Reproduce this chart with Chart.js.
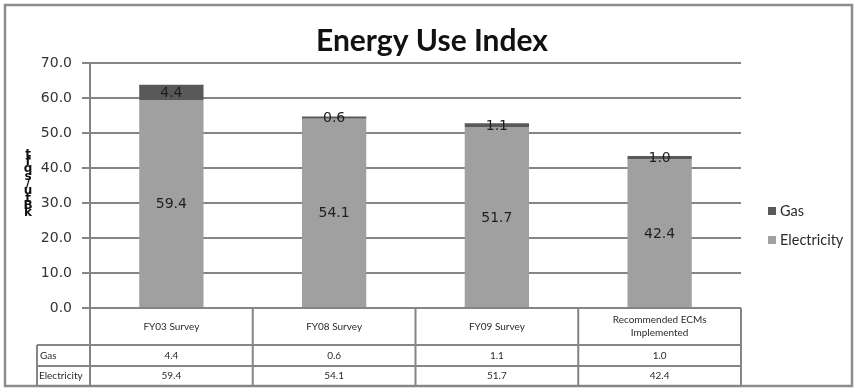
<!DOCTYPE html>
<html>
<head>
<meta charset="utf-8">
<script src="https://cdn.jsdelivr.net/npm/chart.js@4.4.1/dist/chart.umd.min.js"></script>
<style>
  html, body { margin: 0; padding: 0; background: #ffffff; }
  #wrap { width: 858px; height: 389px; position: relative; }
</style>
</head>
<body>
<div id="wrap"><canvas id="chart" width="858" height="389"></canvas></div>
<script>
// Energy Use Index: electricity and gas, stacked per survey
const categories = ['FY03 Survey', 'FY08 Survey', 'FY09 Survey', ['Recommended ECMs', 'Implemented']];
const gasValues = [4.4, 0.6, 1.1, 1.0];
const electricityValues = [59.4, 54.1, 51.7, 42.4];
const yMin = 0;
const yMax = 70;
const yStep = 10;
const chartTitle = 'Energy Use Index';
const unitLabel = 'kBtu/sqft';

const GAS_COLOR = '#595959';
const ELEC_COLOR = '#a0a0a0';
const LINE_COLOR = '#858585';
const TEXT_COLOR = '#2b2b2b';

// Frame, title, stacked unit label and right-hand legend
const decorations = {
  id: 'decorations',
  beforeDraw(chart) {
    const ctx = chart.ctx;
    ctx.save();
    ctx.fillStyle = '#ffffff';
    ctx.fillRect(0, 0, chart.width, chart.height);
    ctx.restore();
  },
  afterDraw(chart) {
    const ctx = chart.ctx;
    ctx.save();
    // outer frame
    ctx.strokeStyle = '#8c8c8c';
    ctx.lineWidth = 2.5;
    ctx.strokeRect(5, 5, 847, 381);

    // title
    ctx.fillStyle = '#111111';
    ctx.font = 'bold 30px Lato';
    ctx.textAlign = 'center';
    ctx.textBaseline = 'alphabetic';
    ctx.fillText(chartTitle, 432, 51);

    // unit label, glyphs stacked upright from bottom to top
    ctx.font = 'bold 12px "DejaVu Sans"';
    ctx.fillStyle = '#111111';
    ctx.textBaseline = 'middle';
    const chars = unitLabel.split('');
    const step = 7.3;
    const bottomY = 213;
    chars.forEach((c, i) => {
      ctx.fillText(c, 28, bottomY - i * step);
    });

    // legend, drawn in reverse dataset order
    const items = chart.data.datasets.slice().reverse();
    ctx.font = '14.5px Lato';
    ctx.textAlign = 'left';
    items.forEach((ds, i) => {
      const y = 211 + i * 29;
      ctx.fillStyle = ds.backgroundColor;
      ctx.fillRect(768, y - 4, 8, 8);
      ctx.fillStyle = TEXT_COLOR;
      ctx.fillText(ds.label, 780, y + 0.5);
    });
    ctx.restore();
  }
};

// Segment values written in the middle of each stacked piece
const segmentLabels = {
  id: 'segmentLabels',
  afterDatasetsDraw(chart) {
    const ctx = chart.ctx;
    ctx.save();
    ctx.font = '14px "DejaVu Sans"';
    ctx.fillStyle = '#1e1e1e';
    ctx.textAlign = 'center';
    ctx.textBaseline = 'middle';
    chart.data.datasets.forEach((ds, di) => {
      const meta = chart.getDatasetMeta(di);
      meta.data.forEach((bar, i) => {
        const yMid = (bar.y + bar.base) / 2;
        ctx.fillText(ds.data[i].toFixed(1), bar.x, yMid + 1);
      });
    });
    ctx.restore();
  }
};

// Data table under the plot, columns taken from the category scale
const dataTable = {
  id: 'dataTable',
  afterDraw(chart) {
    const ctx = chart.ctx;
    const area = chart.chartArea;
    const xScale = chart.scales.x;
    const n = categories.length;
    const half = (area.right - area.left) / (2 * n);
    const headTop = area.bottom;
    const headBottom = headTop + 37;
    const gasBottom = headBottom + 21;
    const elecBottom = gasBottom + 20;
    const labelLeft = 37;

    ctx.save();
    ctx.strokeStyle = LINE_COLOR;
    ctx.lineWidth = 2;
    ctx.beginPath();
    // axis line continues through the table
    ctx.moveTo(area.left, headTop);
    ctx.lineTo(area.left, elecBottom);
    // row lines
    [headBottom, gasBottom, elecBottom].forEach(y => {
      ctx.moveTo(labelLeft, y);
      ctx.lineTo(area.right, y);
    });
    ctx.moveTo(labelLeft, headBottom);
    ctx.lineTo(labelLeft, elecBottom);
    // column separators
    for (let i = 0; i < n; i++) {
      const right = xScale.getPixelForValue(i) + half;
      ctx.moveTo(right, headTop);
      ctx.lineTo(right, elecBottom);
    }
    ctx.stroke();

    ctx.fillStyle = TEXT_COLOR;
    ctx.font = '10px Lato';
    ctx.textBaseline = 'middle';
    ctx.textAlign = 'center';
    categories.forEach((cat, i) => {
      const cx = xScale.getPixelForValue(i);
      const lines = Array.isArray(cat) ? cat : [cat];
      const lh = 13;
      const startY = (headTop + headBottom) / 2 - (lines.length - 1) * lh / 2;
      lines.forEach((ln, k) => ctx.fillText(ln, cx, startY + k * lh));
      ctx.fillText(gasValues[i].toFixed(1), cx, (headBottom + gasBottom) / 2);
      ctx.fillText(electricityValues[i].toFixed(1), cx, (gasBottom + elecBottom) / 2);
    });
    ctx.textAlign = 'left';
    ctx.fillText('Gas', 40, (headBottom + gasBottom) / 2);
    ctx.fillText('Electricity', 39, (gasBottom + elecBottom) / 2);
    ctx.restore();
  }
};

new Chart(document.getElementById('chart'), {
  type: 'bar',
  data: {
    labels: categories,
    datasets: [
      { label: 'Electricity', data: electricityValues, backgroundColor: ELEC_COLOR, borderWidth: 0 },
      { label: 'Gas', data: gasValues, backgroundColor: GAS_COLOR, borderWidth: 0 }
    ]
  },
  options: {
    responsive: false,
    animation: false,
    devicePixelRatio: 1,
    layout: { padding: { top: 63, right: 117, bottom: 81, left: 0 } },
    datasets: { bar: { categoryPercentage: 1.0, barPercentage: 0.395 } },
    plugins: {
      legend: { display: false },
      title: { display: false },
      tooltip: { enabled: false }
    },
    scales: {
      x: {
        stacked: true,
        display: false
      },
      y: {
        stacked: true,
        min: yMin,
        max: yMax,
        afterFit(scale) { scale.width = 90; },
        ticks: {
          stepSize: yStep,
          padding: 10,
          color: '#333333',
          font: { family: 'DejaVu Sans', size: 14 },
          callback: v => Number(v).toFixed(1)
        },
        grid: { color: LINE_COLOR, lineWidth: 2, tickLength: 8, drawTicks: true },
        border: { display: true, color: LINE_COLOR, width: 2 }
      }
    }
  },
  plugins: [decorations, segmentLabels, dataTable]
});
</script>
</body>
</html>
